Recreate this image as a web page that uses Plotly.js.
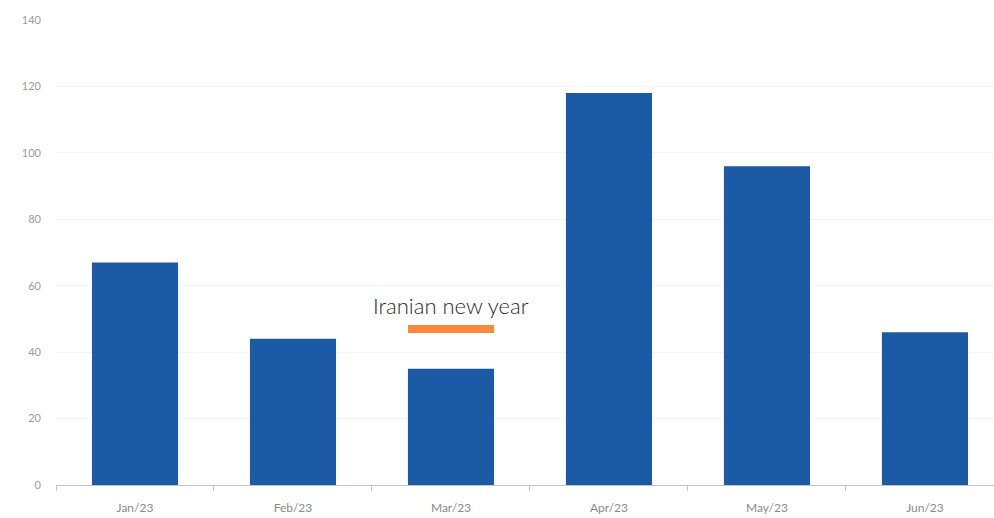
<!DOCTYPE html>
<html>
<head>
<meta charset="utf-8">
<script src="https://cdn.plot.ly/plotly-3.0.1.min.js"></script>
<style>html,body{margin:0;padding:0;background:#fff;}#chart{width:994px;height:518px;}</style>
</head>
<body>
<div id="chart"></div>
<script>
const months = ["Jan/23", "Feb/23", "Mar/23", "Apr/23", "May/23", "Jun/23"];
const values = [67, 44, 35, 118, 96, 46];
const yTicks = [0, 20, 40, 60, 80, 100, 120, 140];
const noteText = "Iranian new year";
const noteMonth = "Mar/23";

const barColor = "#1C5AA6";
const noteIdx = months.indexOf(noteMonth);
const barWidth = 0.545;

const trace = {
  type: "bar",
  x: months,
  y: values,
  marker: {color: barColor, line: {width: 0}},
  width: barWidth,
  hoverinfo: "x+y"
};

const layout = {
  width: 994,
  height: 518,
  margin: {l: 56, r: 0, t: 20, b: 33},
  paper_bgcolor: "#ffffff",
  plot_bgcolor: "#ffffff",
  showlegend: false,
  font: {family: "Lato, 'Open Sans', sans-serif", color: "#8a8a8a"},
  xaxis: {
    type: "category",
    range: [-0.5, 5.437],
    showgrid: false,
    showline: true,
    linecolor: "#c4c4c4",
    linewidth: 1,
    ticks: "outside",
    tickson: "boundaries",
    ticklen: 5,
    tickcolor: "#c4c4c4",
    tickfont: {size: 12, color: "#8a8a8a"},
    ticklabelstandoff: 12,
    zeroline: false
  },
  yaxis: {
    range: [0, 140],
    tickvals: yTicks,
    showgrid: true,
    gridcolor: "#f3f3f3",
    gridwidth: 1,
    zeroline: false,
    showline: false,
    ticks: "",
    tickfont: {size: 11, color: "#9a9a9a"},
    ticklabelstandoff: 14
  },
  shapes: [{
    type: "rect",
    xref: "x",
    yref: "y",
    x0: noteIdx - barWidth / 2,
    x1: noteIdx + barWidth / 2,
    y0: 45.8,
    y1: 48.2,
    fillcolor: "#F68B3B",
    line: {width: 0}
  }],
  annotations: [{
    xref: "x",
    yref: "y",
    x: noteIdx,
    y: 49.3,
    yanchor: "bottom",
    xanchor: "center",
    text: noteText,
    showarrow: false,
    font: {size: 22, weight: 300, color: "#2a2a2a", family: "Lato, 'Open Sans', sans-serif"}
  }]
};

Plotly.newPlot("chart", [trace], layout, {displayModeBar: false, staticPlot: true});
</script>
</body>
</html>
